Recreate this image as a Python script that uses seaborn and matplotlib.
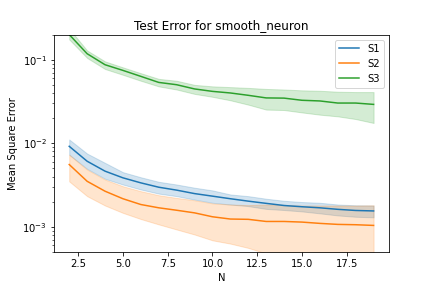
import matplotlib
matplotlib.use("Agg")

import pandas as pd
import matplotlib.pyplot as plt
import seaborn as sns

# valores
N = list(range(2, 20))

s1_media = [0.0092, 0.0061, 0.00464, 0.00386, 0.00336, 0.00298, 0.00275, 0.0025, 0.00233,
            0.00217, 0.00203, 0.00191, 0.0018, 0.00174, 0.00169, 0.00162, 0.00157, 0.00155]
s1_sup = [0.0111, 0.00753, 0.00583, 0.00451, 0.00392, 0.00346, 0.00321, 0.00294, 0.00273,
          0.00244, 0.00233, 0.00217, 0.00205, 0.00198, 0.00194, 0.00185, 0.00181, 0.0018]
s1_inf = [0.0073, 0.00494, 0.00376, 0.00321, 0.0028, 0.0025, 0.00233, 0.00212, 0.00194,
          0.00185, 0.00177, 0.00164, 0.00159, 0.00153, 0.00145, 0.00137, 0.00132, 0.0013]

s2_media = [0.00557, 0.00351, 0.00267, 0.00217, 0.00185, 0.00169, 0.00158, 0.00147, 0.00132,
            0.00124, 0.00123, 0.00116, 0.00116, 0.00114, 0.0011, 0.00107, 0.00106, 0.00104]
s2_sup = [0.0073, 0.00485, 0.00368, 0.00306, 0.00267, 0.00239, 0.00222, 0.00208, 0.00191,
          0.00185, 0.00182, 0.00185, 0.00183, 0.0018, 0.0018, 0.0018, 0.0018, 0.00181]
s2_inf = [0.0035, 0.00233, 0.0018, 0.00147, 0.00124, 0.00107, 0.00093, 0.00081, 0.00069,
          0.00063, 0.00056, 0.00048, 0.00045, 0.00043, 0.00042, 0.00041, 0.0004, 0.0004]

s3_media = [0.2, 0.118, 0.0871, 0.0745, 0.0632, 0.0535, 0.0502, 0.0447, 0.0418,
            0.040, 0.0375, 0.0349, 0.0347, 0.0327, 0.0321, 0.0303, 0.0303, 0.0292]
s3_sup = [0.235, 0.129, 0.0955, 0.081, 0.069, 0.059, 0.056, 0.050, 0.048,
          0.047, 0.046, 0.0447, 0.044, 0.043, 0.0425, 0.0414, 0.041, 0.041]
s3_inf = [0.175, 0.105, 0.0774, 0.066, 0.056, 0.048, 0.044, 0.039, 0.036,
          0.0327, 0.029, 0.0253, 0.025, 0.0234, 0.022, 0.021, 0.0195, 0.0175]

series = {
    "S1": (s1_inf, s1_media, s1_sup),
    "S2": (s2_inf, s2_media, s2_sup),
    "S3": (s3_inf, s3_media, s3_sup),
}


def montar_dados():
    linhas = []
    for nome, (inf, media, sup) in series.items():
        for i, n in enumerate(N):
            for v in (inf[i], media[i], sup[i]):
                linhas.append({"N": n, "erro": v, "serie": nome})
    return pd.DataFrame(linhas)


df = montar_dados()

fig, ax = plt.subplots(figsize=(6, 4), dpi=72)
fig.subplots_adjust(left=0.125, right=0.9, top=0.88, bottom=0.125)

# mediana = media lida; faixa = minimo..maximo
sns.lineplot(data=df, x="N", y="erro", hue="serie",
             estimator="median", errorbar=("pi", 100), ax=ax)

ax.set_yscale("log")
ax.set_ylim(5e-4, 0.2)
ax.set_title("Test Error for smooth_neuron")
ax.set_xlabel("N")
ax.set_ylabel("Mean Square Error")
ax.legend(loc="upper right")

plt.savefig("out.png", dpi=72)
